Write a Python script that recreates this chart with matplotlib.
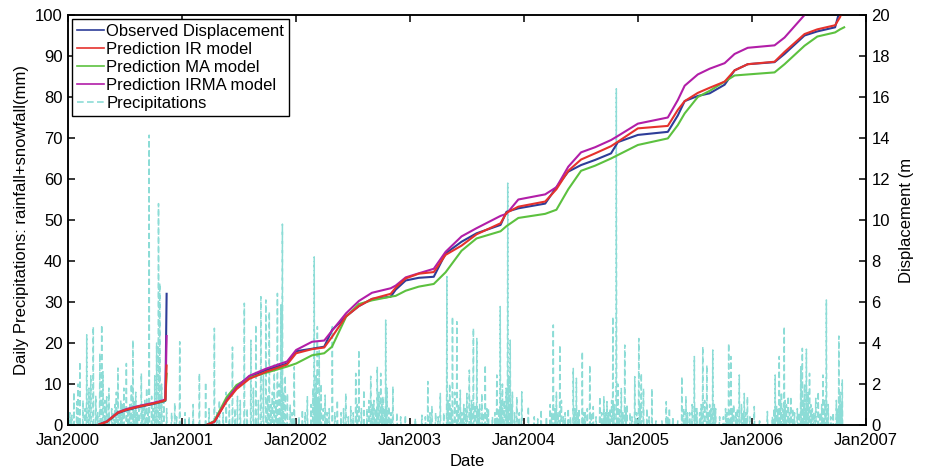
import numpy as np
import matplotlib
matplotlib.use("Agg")
import matplotlib.pyplot as plt

plt.rcParams['font.family'] = ['Liberation Sans', 'DejaVu Sans']

# ---------------- data ----------------
# days counted from 2000-01-01
seg1_day = [96, 125, 160, 188, 230, 271, 303, 312, 316]
obs_seg1 = [0.0, 0.16, 0.58, 0.73, 0.89, 1.02, 1.14, 1.18, 6.4]
ir_seg1 = [0.0, 0.16, 0.60, 0.75, 0.91, 1.04, 1.16, 1.22, 2.9]
ma_seg1 = [0.0, 0.18, 0.62, 0.77, 0.92, 1.05, 1.15, 1.20, 2.5]
irma_seg1 = [0.0, 0.18, 0.62, 0.78, 0.94, 1.07, 1.20, 1.25, 4.34]

seg2_day = [444, 469, 508, 540, 581, 635, 702, 731, 782, 821, 846, 891, 932, 974,
            1034, 1050, 1082, 1124, 1172, 1210, 1261, 1309, 1386, 1405, 1443, 1529,
            1565, 1603, 1644, 1689, 1740, 1762, 1826, 1922, 1954, 1976, 2018, 2056,
            2104, 2136, 2178, 2264, 2296, 2360, 2401, 2458, 2474, 2487]
obs_seg2 = [0.0, 0.16, 1.22, 1.87, 2.36, 2.68, 3.0, 3.6, 3.72, 3.82, 4.63, 5.3, 5.8, 6.15,
            6.26, 6.6, 7.05, 7.18, 7.23, 8.37, 8.94, 9.35, 9.76, 10.4, 10.57, 10.8,
            11.6, 12.36, 12.68, 12.93, 13.25, 13.8, 14.15, 14.3, 15.1, 15.8, 16.05, 16.18,
            16.6, 17.3, 17.6, 17.7, 18.1, 19.0, 19.2, 19.4, 20.3, 21.0]
ir_seg2 = [0.0, 0.16, 1.15, 1.75, 2.25, 2.6, 2.95, 3.5, 3.7, 3.78, 4.3, 5.3, 5.8, 6.15,
           6.4, 6.7, 7.15, 7.38, 7.46, 8.3, 8.75, 9.3, 9.84, 10.35, 10.65, 10.9,
           11.5, 12.4, 12.95, 13.25, 13.6, 13.82, 14.47, 14.59, 15.37, 15.8, 16.2, 16.45,
           16.75, 17.3, 17.6, 17.72, 18.2, 19.07, 19.3, 19.5, 19.9, 20.5]
ma_seg2 = [0.0, 0.2, 1.35, 1.95, 2.3, 2.55, 2.85, 3.0, 3.4, 3.5, 3.82, 5.28, 5.9, 6.08,
           6.26, 6.3, 6.55, 6.75, 6.88, 7.45, 8.5, 9.1, 9.45, 9.7, 10.1, 10.3,
           10.5, 11.5, 12.4, 12.65, 13.0, 13.17, 13.66, 13.98, 14.63, 15.2, 16.0, 16.3,
           16.75, 17.05, 17.1, 17.2, 17.6, 18.5, 18.95, 19.15, 19.3, 19.4]
irma_seg2 = [0.0, 0.16, 1.2, 1.85, 2.4, 2.75, 3.1, 3.66, 4.06, 4.12, 4.6, 5.45, 6.05, 6.45,
             6.67, 6.8, 7.2, 7.4, 7.62, 8.45, 9.2, 9.6, 10.2, 10.3, 11.0, 11.25,
             11.6, 12.6, 13.3, 13.55, 13.9, 14.1, 14.7, 15.0, 15.85, 16.55, 17.1, 17.38,
             17.65, 18.1, 18.4, 18.52, 18.9, 20.0, 20.7, 21.5, 21.7, 21.9]

# precipitation events (day from 2000-01-01, mm)
precip_2000 = [(6, 3), (12, 2.4), (19, 8), (28, 5.7), (32, 10), (38, 15.4), (48, 6), (55, 4),
               (60, 22), (67, 9), (73, 12), (81, 24), (89, 7), (95, 3), (102, 17.5), (108, 24.4),
               (112, 13), (118, 6), (124, 6.9), (131, 9), (140, 4), (145, 3), (150, 5),
               (155, 8), (160, 13.9), (165, 3), (169, 6), (174, 5), (179, 9), (187, 15),
               (192, 4), (198, 5), (203, 10), (208, 20.7), (212, 6), (217, 8), (222, 3),
               (227, 4), (235, 12.6), (240, 5), (246, 6), (252, 9), (256, 3), (260, 70.7),
               (268, 7), (273, 4), (278, 12), (284, 20), (290, 54), (294, 34.6), (300, 10),
               (307, 6), (316, 4), (332, 3), (342, 5.4), (348, 2), (358, 20.3)]
precip_2001 = [(375, 3), (388, 2), (401, 5), (421, 12.6), (441, 10.4), (452, 4), (469, 23.6),
               (477, 3), (485, 6), (497, 3), (507, 8), (517, 5), (527, 19), (535, 4), (543, 7),
               (552, 6), (565, 29.7), (574, 4), (586, 20.7), (594, 9), (602, 24.4), (610, 6),
               (618, 31.3), (626, 12), (634, 30.5), (640, 7), (645, 27.6), (650, 5), (655, 8),
               (661, 15), (666, 6), (671, 32.1), (677, 10), (682, 29.3), (687, 49), (691, 8),
               (696, 12), (703, 7.7), (712, 5), (718, 3), (725, 14.2)]
precip_2002 = [(740, 2), (751, 3.7), (760, 3), (767, 6.9), (779, 5), (785, 9), (789, 41),
               (792, 7), (795, 12), (799, 24), (802, 6), (805, 18.3), (808, 5), (811, 10),
               (818, 4), (824, 7.3), (830, 3), (837, 4), (847, 24), (855, 3), (863, 6),
               (875, 3), (883, 4), (890, 7.7), (898, 2), (906, 4.5), (914, 3), (922, 12.6),
               (927, 5), (932, 18.3), (940, 4), (948, 8.5), (958, 4), (964, 6), (970, 11.9),
               (975, 5), (980, 6), (986, 4), (991, 14.2), (996, 8), (1002, 12.6), (1005, 5),
               (1009, 7), (1014, 4), (1018, 25.6), (1022, 9), (1028, 4.5), (1035, 3),
               (1041, 9.4), (1054, 3), (1066, 2), (1081, 2.4)]
precip_2003 = [(1113, 1.6), (1134, 2.4), (1145, 2), (1153, 10.6), (1160, 3), (1166, 4.5),
               (1178, 3), (1186, 2), (1193, 7.7), (1204, 3), (1214, 36.2), (1218, 6),
               (1223, 10), (1228, 4), (1232, 26.4), (1239, 8), (1246, 25.2), (1251, 5),
               (1257, 8.5), (1262, 3), (1268, 5), (1273, 4), (1278, 7.7), (1286, 13.4),
               (1290, 4), (1293, 6), (1299, 23.6), (1304, 5), (1310, 21.1), (1315, 4),
               (1319, 5), (1326, 7.7), (1331, 3), (1337, 14.6), (1342, 4), (1347, 4),
               (1360, 2), (1368, 3), (1374, 12.2), (1380, 4), (1385, 28.9), (1389, 6),
               (1392, 10), (1398, 6), (1404, 9), (1409, 59), (1413, 12), (1417, 20.7),
               (1420, 5), (1424, 8), (1431, 3), (1438, 6.9), (1446, 3), (1454, 8.1)]
precip_2004 = [(1475, 4.5), (1494, 2), (1505, 1.5), (1516, 3.7), (1533, 2), (1545, 5),
               (1550, 3), (1555, 24.4), (1560, 4), (1565, 8), (1570, 3), (1576, 19.5),
               (1581, 6), (1587, 2), (1593, 3), (1603, 4), (1610, 2), (1619, 13.8), (1624, 4),
               (1629, 11.4), (1634, 3), (1638, 4), (1648, 17.9), (1652, 3), (1657, 3),
               (1664, 4), (1672, 14.6), (1677, 3), (1683, 4.5), (1692, 2), (1704, 6.9),
               (1710, 3), (1717, 6.9), (1722, 3), (1727, 5.7), (1732, 3), (1737, 4),
               (1742, 6), (1746, 26.4), (1750, 5), (1757, 82), (1762, 10), (1767, 4),
               (1773, 8.9), (1778, 3), (1784, 19.5), (1788, 4), (1791, 5), (1801, 3),
               (1807, 2), (1816, 11.8), (1822, 3)]
precip_2005 = [(1829, 21.1), (1833, 5), (1837, 12.6), (1844, 8.9), (1855, 4), (1862, 2),
               (1871, 8.9), (1884, 1), (1903, 1), (1917, 5.7), (1922, 2), (1927, 4.1),
               (1938, 2), (1954, 1), (1967, 11.8), (1973, 4), (1980, 6.9), (1985, 3),
               (1992, 3), (2000, 5), (2007, 16.7), (2011, 4), (2015, 4), (2024, 3), (2029, 5),
               (2034, 19.1), (2040, 6), (2047, 14.6), (2051, 3), (2056, 5), (2061, 4),
               (2066, 18.3), (2071, 5), (2075, 4), (2088, 2), (2100, 2), (2107, 4), (2112, 3),
               (2117, 19.9), (2124, 16.7), (2128, 4), (2133, 5), (2140, 3), (2145, 4),
               (2151, 12.2), (2158, 5), (2163, 3), (2167, 7.7), (2172, 3), (2177, 6.9),
               (2185, 2)]
precip_2006 = [(2199, 4.5), (2216, 1), (2241, 3.3), (2257, 2), (2262, 4), (2266, 12.2),
               (2270, 5), (2275, 4), (2279, 16.7), (2283, 6), (2286, 8), (2290, 4), (2295, 24),
               (2298, 6), (2302, 5), (2308, 7), (2312, 3), (2316, 6.9), (2322, 4), (2328, 3),
               (2337, 4), (2343, 3), (2348, 14.2), (2353, 18.7), (2357, 6), (2360, 10),
               (2363, 4), (2366, 18.5), (2371, 8), (2376, 12.6), (2380, 5), (2385, 4),
               (2390, 3), (2396, 6.5), (2404, 8.1), (2410, 3), (2415, 5), (2419, 12.2),
               (2425, 6), (2430, 30.5), (2436, 5), (2444, 2), (2452, 3), (2462, 6), (2466, 4),
               (2470, 21.7), (2474, 8), (2478, 5), (2481, 11)]

years = list(range(2000, 2008))
xtick_labels = [f"Jan{y}" for y in years]

# ---------------- build series ----------------
base = np.datetime64('2000-01-01')
n_days = (np.datetime64('2007-01-01') - base).astype(int)
all_days = np.arange(n_days)
precip = np.zeros(n_days)
for ev in (precip_2000 + precip_2001 + precip_2002 + precip_2003 +
           precip_2004 + precip_2005 + precip_2006):
    precip[ev[0]] = ev[1]
precip_dates = base + all_days.astype('timedelta64[D]')


def joined(d1, v1, d2, v2):
    days = np.array(d1 + [d1[-1] + 1] + d2, dtype=float)
    vals = np.array(v1 + [np.nan] + v2, dtype=float)
    dates = base + days.astype(int).astype('timedelta64[D]')
    return dates, vals


# ---------------- figure ----------------
fig = plt.figure(figsize=(9.28, 4.70), dpi=100)
ax = fig.add_axes([68 / 928, 45 / 470, 798 / 928, 410 / 470])
ax2 = ax.twinx()

p_line, = ax.plot(precip_dates, precip, color='#8CDCD6', lw=1.1,
                  linestyle=(0, (4, 2)), label='Precipitations')

colors = {'obs': '#2E3D98', 'ir': '#E5322D', 'ma': '#5CC13F', 'irma': '#B21EA8'}
d, v = joined(seg1_day, obs_seg1, seg2_day, obs_seg2)
l_obs, = ax2.plot(d, v, color=colors['obs'], lw=1.5, label='Observed Displacement')
d, v = joined(seg1_day, ma_seg1, seg2_day, ma_seg2)
l_ma, = ax2.plot(d, v, color=colors['ma'], lw=1.5, label='Prediction MA model')
d, v = joined(seg1_day, irma_seg1, seg2_day, irma_seg2)
l_irma, = ax2.plot(d, v, color=colors['irma'], lw=1.5, label='Prediction IRMA model')
d, v = joined(seg1_day, ir_seg1, seg2_day, ir_seg2)
l_ir, = ax2.plot(d, v, color=colors['ir'], lw=1.5, label='Prediction IR model')

xticks = [np.datetime64(f'{y}-01-01') for y in years]
ax.set_xlim(xticks[0], xticks[-1])
ax.set_xticks(xticks)
ax.set_xticklabels(xtick_labels)
ax.set_ylim(0, 100)
ax.set_yticks(np.arange(0, 101, 10))
ax2.set_ylim(0, 20)
ax2.set_yticks(np.arange(0, 21, 2))

for a in (ax, ax2):
    for s in a.spines.values():
        s.set_linewidth(1.1)
ax.tick_params(axis='x', direction='in', top=True, length=5, width=1.1,
               labelsize=12, pad=6)
ax.tick_params(axis='y', direction='in', right=False, length=5, width=1.1,
               labelsize=12, pad=4)
ax2.tick_params(axis='y', direction='in', length=5, width=1.1, labelsize=12, pad=4)

ax.set_xlabel('Date', fontsize=12, labelpad=4)
ax.set_ylabel('Daily Precipitations: rainfall+snowfall(mm)', fontsize=12, labelpad=4)
ax2.set_ylabel('Displacement (m', fontsize=12, labelpad=6)

leg = ax2.legend([l_obs, l_ir, l_ma, l_irma, p_line],
                 ['Observed Displacement', 'Prediction IR model', 'Prediction MA model',
                  'Prediction IRMA model', 'Precipitations'],
                 loc='upper left', fontsize=12, frameon=True, fancybox=False,
                 edgecolor='black', framealpha=1, handlelength=1.6, handletextpad=0.15,
                 labelspacing=0.18, borderpad=0.3, borderaxespad=0.25)
leg.get_frame().set_linewidth(1.0)
for h in leg.get_lines():
    h.set_linewidth(1.2)

fig.savefig('out.png', dpi=100)
